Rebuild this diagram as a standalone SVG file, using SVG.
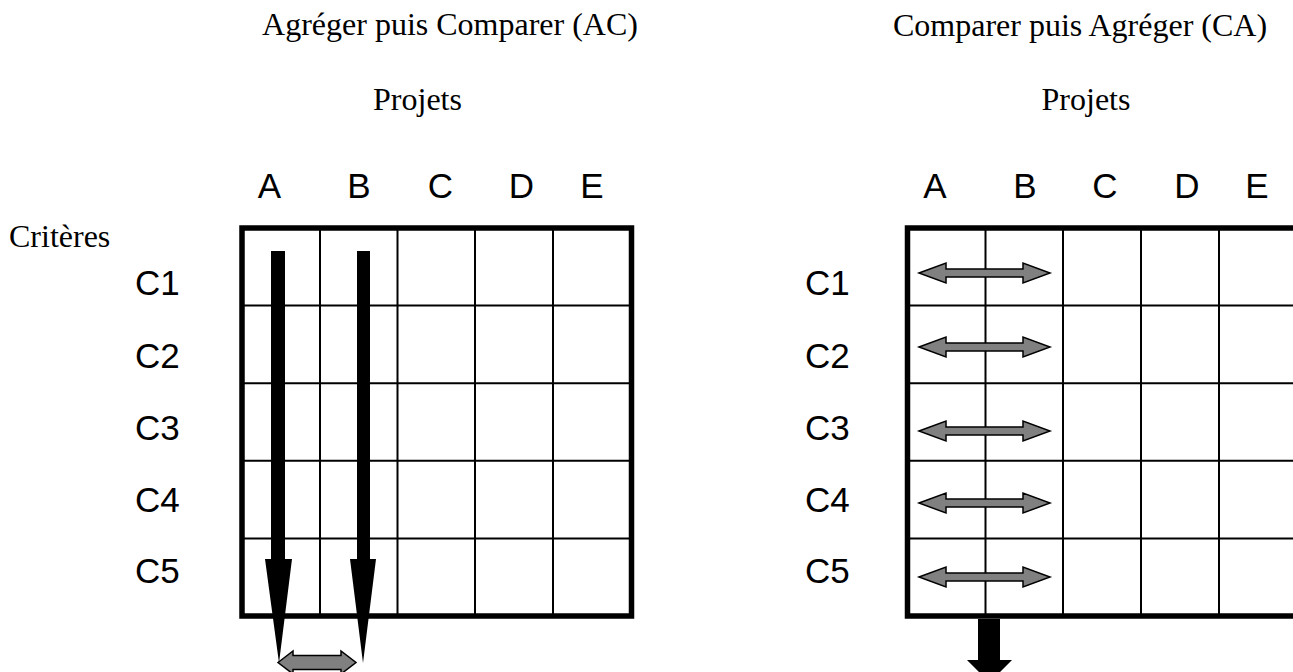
<svg xmlns="http://www.w3.org/2000/svg" xmlns:xlink="http://www.w3.org/1999/xlink" width="1293" height="672" viewBox="0 0 1293 672">
  <style>
    .serif { font-family: "Liberation Serif", "Times New Roman", serif; font-size: 32px; fill: #000; }
    .sans { font-family: "Liberation Sans", Arial, sans-serif; font-size: 35px; fill: #000; }
    .mid { text-anchor: middle; }
    .inner { stroke: #000; stroke-width: 2; fill: none; }
    .outer { stroke: #000; stroke-width: 5.5; fill: none; }
    .grey { fill: #808080; stroke: #000; stroke-width: 1.5; stroke-linejoin: miter; }
    .black { fill: #000; stroke: none; }
  </style>
  <defs>
    <path id="dbl" d="M0,0 L27,-10 L27,-4 L104,-4 L104,-10 L131,0 L104,10 L104,4 L27,4 L27,10 Z"/>
  </defs>
  <rect width="1293" height="672" fill="#fff"/>

  <g id="title-ac">
    <text class="serif mid" x="450" y="35">Agréger puis Comparer (AC)</text>
    <text class="serif mid" x="417.5" y="110">Projets</text>
  </g>
  <g id="title-ca">
    <text class="serif mid" x="1080" y="36">Comparer puis Agréger (CA)</text>
    <text class="serif mid" x="1086" y="110">Projets</text>
  </g>
  <g id="criteres">
    <text class="serif" x="9" y="247">Critères</text>
  </g>

  <g id="grid-ac">
    <g class="inner">
      <line x1="320" y1="228" x2="320" y2="616"/>
      <line x1="397.5" y1="228" x2="397.5" y2="616"/>
      <line x1="475" y1="228" x2="475" y2="616"/>
      <line x1="553" y1="228" x2="553" y2="616"/>
      <line x1="242" y1="305.6" x2="631.5" y2="305.6"/>
      <line x1="242" y1="383.2" x2="631.5" y2="383.2"/>
      <line x1="242" y1="460.8" x2="631.5" y2="460.8"/>
      <line x1="242" y1="538.4" x2="631.5" y2="538.4"/>
    </g>
    <rect class="outer" x="242" y="228" width="389.5" height="388"/>
    <g class="sans mid">
      <text x="269.5" y="198">A</text>
      <text x="359" y="198">B</text>
      <text x="440.5" y="198">C</text>
      <text x="521.5" y="198">D</text>
      <text x="592" y="198">E</text>
    </g>
    <g class="sans">
      <text x="135" y="295">C1</text>
      <text x="135" y="368">C2</text>
      <text x="135" y="440">C3</text>
      <text x="135" y="512">C4</text>
      <text x="135" y="583">C5</text>
    </g>
  </g>

  <g id="grid-ca">
    <g class="inner">
      <line x1="985.5" y1="228" x2="985.5" y2="616"/>
      <line x1="1063" y1="228" x2="1063" y2="616"/>
      <line x1="1141" y1="228" x2="1141" y2="616"/>
      <line x1="1219" y1="228" x2="1219" y2="616"/>
      <line x1="907.5" y1="305.6" x2="1297" y2="305.6"/>
      <line x1="907.5" y1="383.2" x2="1297" y2="383.2"/>
      <line x1="907.5" y1="460.8" x2="1297" y2="460.8"/>
      <line x1="907.5" y1="538.4" x2="1297" y2="538.4"/>
    </g>
    <rect class="outer" x="907.5" y="228" width="389.5" height="388"/>
    <g class="sans mid">
      <text x="935" y="198">A</text>
      <text x="1025" y="198">B</text>
      <text x="1105" y="198">C</text>
      <text x="1187" y="198">D</text>
      <text x="1257" y="198">E</text>
    </g>
    <g class="sans">
      <text x="805" y="295">C1</text>
      <text x="805" y="368">C2</text>
      <text x="805" y="440">C3</text>
      <text x="805" y="512">C4</text>
      <text x="805" y="583">C5</text>
    </g>
  </g>

  <g id="connectors">
    <path class="black" d="M271,251 L285,251 L285,559 L292,559 L279,663 L265,559 L271,559 Z"/>
    <path class="black" d="M357,251 L370,251 L370,559 L376,559 L363,663 L350,559 L357,559 Z"/>
    <path class="grey" d="M278,662.5 L293,651 L293,655.5 L341,655.5 L341,651 L356,662.5 L341,674 L341,669.5 L293,669.5 L293,674 Z"/>
    <use class="grey" xlink:href="#dbl" href="#dbl" x="919" y="273"/>
    <use class="grey" xlink:href="#dbl" href="#dbl" x="919" y="347"/>
    <use class="grey" xlink:href="#dbl" href="#dbl" x="919" y="431"/>
    <use class="grey" xlink:href="#dbl" href="#dbl" x="919" y="503"/>
    <use class="grey" xlink:href="#dbl" href="#dbl" x="919" y="577"/>
    <path class="black" d="M978,619 L1000,619 L1000,660 L1012,660 L989.5,682.5 L967,660 L978,660 Z"/>
  </g>
</svg>
